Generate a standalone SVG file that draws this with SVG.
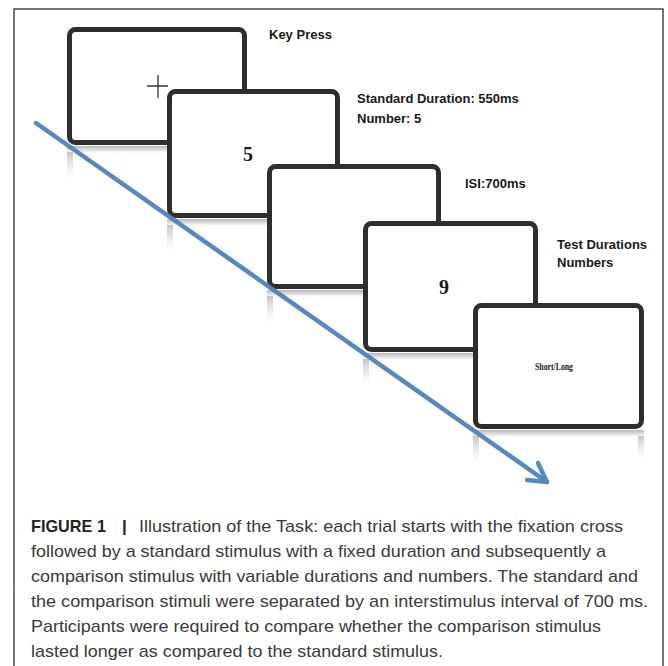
<svg xmlns="http://www.w3.org/2000/svg" width="668" height="666" viewBox="0 0 668 666">
<defs>
<linearGradient id="band" x1="0" y1="0" x2="0" y2="1">
<stop offset="0" stop-color="#b8b8b8"/>
<stop offset="1" stop-color="#ffffff"/>
</linearGradient>
<linearGradient id="strip" x1="0" y1="0" x2="0" y2="1">
<stop offset="0" stop-color="#c4c4c4"/>
<stop offset="1" stop-color="#ffffff" stop-opacity="0"/>
</linearGradient>
<style>
.scr{fill:#ffffff;stroke:#2e2e2e;stroke-width:5}
.lbl{font-family:"Liberation Sans",Arial,sans-serif;font-weight:bold;font-size:13px;fill:#1a1a1a}
.num{font-family:"Liberation Serif","Times New Roman",serif;font-weight:bold;fill:#1a1a1a}
.cap{font-family:"Liberation Sans",Arial,sans-serif;font-size:17px;fill:#3a3a3a}
.capb{font-family:"Liberation Sans",Arial,sans-serif;font-size:17px;font-weight:bold;fill:#222222}
</style>
</defs>
<rect width="668" height="666" fill="#ffffff"/>
<path d="M14 666 V9 H663 V666" fill="none" stroke="#4a4a4a" stroke-width="1.5"/>

<g id="screen1">
<rect x="67" y="146" width="180" height="7" fill="url(#band)"/>
<rect x="67" y="152" width="6" height="32" fill="url(#strip)"/>
<rect class="scr" x="69.5" y="29.5" width="175" height="113" rx="6"/>
<path d="M147 86 H168 M158 75 V98" stroke="#333" stroke-width="1.3" fill="none"/>
</g>
<g id="label1"><text class="lbl" x="269" y="39">Key Press</text></g>

<g id="screen2">
<rect x="167" y="219" width="173" height="7" fill="url(#band)"/>
<rect x="167" y="225" width="6" height="32" fill="url(#strip)"/>
<rect class="scr" x="169.5" y="91.5" width="168" height="124" rx="6"/>
<text class="num" x="248" y="161" font-size="20" text-anchor="middle">5</text>
</g>
<g id="label2">
<text class="lbl" x="357" y="103">Standard Duration: 550ms</text>
<text class="lbl" x="357" y="123">Number: 5</text>
</g>

<g id="screen3">
<rect x="267" y="290" width="174" height="7" fill="url(#band)"/>
<rect x="267" y="296" width="6" height="32" fill="url(#strip)"/>
<rect class="scr" x="269.5" y="166.5" width="169" height="120" rx="6"/>
</g>
<g id="label3"><text class="lbl" x="465" y="188">ISI:700ms</text></g>

<g id="screen4">
<rect x="363" y="353" width="175" height="7" fill="url(#band)"/>
<rect x="363" y="359" width="6" height="32" fill="url(#strip)"/>
<rect class="scr" x="365.5" y="223.5" width="170" height="126" rx="6"/>
<text class="num" x="444" y="294" font-size="20" text-anchor="middle">9</text>
</g>
<g id="label4">
<text class="lbl" x="557" y="249">Test Durations</text>
<text class="lbl" x="557" y="267">Numbers</text>
</g>

<g id="screen5">
<rect x="473" y="430" width="171" height="7" fill="url(#band)"/>
<rect x="473" y="436" width="6" height="32" fill="url(#strip)"/>
<rect x="638" y="436" width="6" height="28" fill="url(#strip)"/>
<rect class="scr" x="475.5" y="305.5" width="166" height="121" rx="6"/>
<text class="num" x="554" y="370" font-size="9.5" fill="#222" text-anchor="middle" textLength="38" lengthAdjust="spacingAndGlyphs">Short/Long</text>
</g>

<g id="connectors" stroke="#4f81bd" stroke-width="4.5" fill="none" stroke-linecap="round" stroke-linejoin="round" opacity="0.95">
<path d="M36 123 L547 482"/>
<path d="M538 463 L547 482 L527 480"/>
</g>

<g id="caption">
<text class="capb" x="31" y="532" textLength="75" lengthAdjust="spacingAndGlyphs">FIGURE 1</text>
<text class="capb" x="122" y="532">|</text>
<text class="cap" x="139" y="532" textLength="484" lengthAdjust="spacingAndGlyphs">Illustration of the Task: each trial starts with the fixation cross</text>
<text class="cap" x="31" y="557" textLength="575" lengthAdjust="spacingAndGlyphs">followed by a standard stimulus with a fixed duration and subsequently a</text>
<text class="cap" x="31" y="582" textLength="607" lengthAdjust="spacingAndGlyphs">comparison stimulus with variable durations and numbers. The standard and</text>
<text class="cap" x="31" y="607" textLength="617" lengthAdjust="spacingAndGlyphs">the comparison stimuli were separated by an interstimulus interval of 700 ms.</text>
<text class="cap" x="31" y="632" textLength="570" lengthAdjust="spacingAndGlyphs">Participants were required to compare whether the comparison stimulus</text>
<text class="cap" x="31" y="657" textLength="412" lengthAdjust="spacingAndGlyphs">lasted longer as compared to the standard stimulus.</text>
</g>
</svg>
